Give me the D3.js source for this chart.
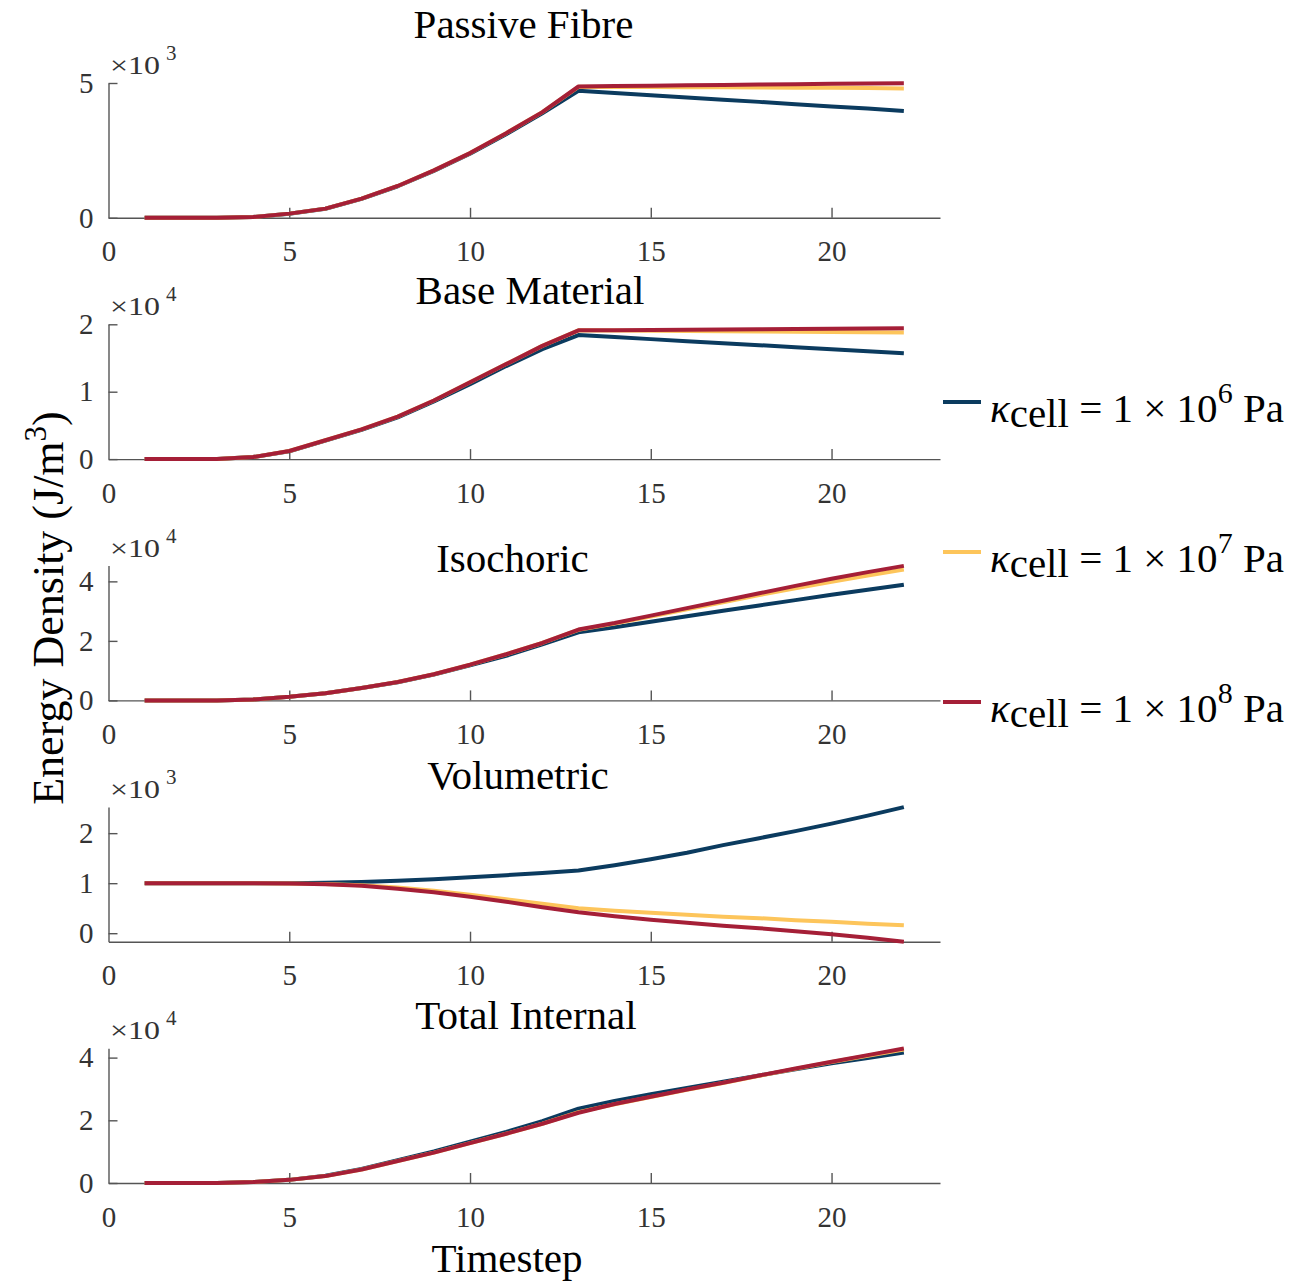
<!DOCTYPE html>
<html>
<head>
<meta charset="utf-8">
<script src="https://cdn.jsdelivr.net/npm/d3@7"></script>
<style>
  body { margin: 0; background: #fff; }
  text { font-family: "Liberation Serif", "Times New Roman", serif; }
</style>
</head>
<body>
<svg id="mainSvg" width="1304" height="1282"></svg>
<script>
// timesteps on the x axis
const timesteps = [1,2,3,4,5,6,7,8,9,10,11,12,13,14,15,16,17,18,19,20,21,22];

// series names (legend) - exponent of kappa_cell
const seriesExp = ["6", "7", "8"];

// Passive Fibre
const passiveK6 = [0,0,0,30,150,335,700,1170,1740,2380,3100,3880,4710,4630,4550,4460,4380,4300,4210,4130,4050,3960];
const passiveK7 = [0,0,0,30,155,340,710,1180,1760,2400,3140,3920,4860,4855,4850,4845,4840,4830,4825,4820,4810,4800];
const passiveK8 = [0,0,0,30,155,340,710,1180,1760,2400,3140,3920,4870,4885,4900,4915,4930,4945,4955,4970,4985,4995];

// Base Material
const baseK6 = [0,0,0,300,1150,2750,4350,6200,8550,11100,13800,16300,18400,18100,17800,17500,17200,16900,16600,16300,16000,15700];
const baseK7 = [0,0,0,300,1200,2800,4400,6300,8700,11400,14100,16800,19100,19070,19030,19000,18970,18930,18900,18870,18830,18800];
const baseK8 = [0,0,0,300,1200,2800,4400,6300,8700,11400,14100,16800,19100,19130,19170,19200,19230,19270,19300,19330,19370,19400];

// Isochoric
const isoK6 = [0,0,0,300,1200,2400,4200,6100,8700,11800,15000,18800,22900,24600,26400,28300,30100,31900,33700,35500,37200,38900];
const isoK7 = [0,0,0,300,1200,2400,4200,6200,8800,12000,15500,19300,23700,25800,28200,30600,33000,35400,37700,39900,42000,44000];
const isoK8 = [0,0,0,300,1200,2400,4200,6200,8800,12000,15500,19300,23800,26000,28500,31000,33500,36000,38500,40900,43100,45200];

// Volumetric
const volK6 = [1000,1000,1000,1000,1000,1010,1025,1050,1080,1120,1160,1205,1255,1360,1480,1610,1760,1900,2040,2190,2350,2520];
const volK7 = [1000,1000,1000,1000,995,985,960,915,850,770,680,590,500,450,410,370,330,300,260,230,190,160];
const volK8 = [1000,1000,1000,1000,995,980,950,890,820,730,630,520,420,340,270,210,150,100,40,-20,-90,-170];

// Total Internal
const totK6 = [0,0,0,300,1000,2300,4500,7300,10100,13200,16300,19700,23700,26200,28300,30300,32300,34300,36300,38200,39900,41600];
const totK7 = [0,0,0,300,1000,2200,4300,7000,9700,12700,15700,18900,22600,25100,27400,29700,31900,34200,36400,38600,40600,42600];
const totK8 = [0,0,0,300,1000,2200,4300,7000,9700,12700,15700,18900,22400,25200,27500,29800,32000,34300,36500,38700,40800,42900];

const panelTitles = ["Passive Fibre", "Base Material", "Isochoric", "Volumetric", "Total Internal"];
const panelSeries = [
    [passiveK6, passiveK7, passiveK8],
    [baseK6, baseK7, baseK8],
    [isoK6, isoK7, isoK8],
    [volK6, volK7, volK8],
    [totK6, totK7, totK8]
];
const panelYLim = [[0, 5000], [0, 20000], [0, 45300], [-170, 2525], [0, 43000]];
const panelYTicks = [[0, 5], [0, 1, 2], [0, 2, 4], [0, 1, 2], [0, 2, 4]];
const panelExp = [3, 4, 4, 3, 4];
const xTicks = [0, 5, 10, 15, 20];
const xLim = [0, 23];

// layout
const colors = ["#0b3b5f", "#fdc55b", "#a51f37"];
const axLeft = 108.5, axRight = 940;
const axTop0 = 83, axStep = 241.3, axHeight = 134.8;
const titlePos = [[523.5, 38], [530, 304], [512.5, 572], [518, 789], [526, 1029]];
const axisColor = "#555";
const tickTextColor = "#333";
const serif = "Liberation Serif";

let canvas = d3.select("#mainSvg");

let x = d3.scaleLinear().domain(xLim).range([axLeft, axRight]);

function drawPanel(i) {
    let top = axTop0 + axStep * i;
    let bottom = top + axHeight;
    let y = d3.scaleLinear().domain(panelYLim[i]).range([bottom, top]);
    let scale = Math.pow(10, panelExp[i]);
    let g = canvas.append("g");

    // x axis
    let xa = g.append("g")
        .attr("transform", `translate(0,${bottom})`)
        .call(d3.axisBottom(x).tickValues(xTicks).tickSizeInner(-10).tickSizeOuter(0).tickPadding(23));
    // y axis
    let ya = g.append("g")
        .attr("transform", `translate(${axLeft},0)`)
        .call(d3.axisLeft(y).tickValues(panelYTicks[i].map(v => v * scale))
            .tickFormat(v => d3.format("d")(Math.round(v / scale)))
            .tickSizeInner(-9).tickSizeOuter(0).tickPadding(15));

    [xa, ya].forEach(a => {
        a.attr("font-family", serif).attr("font-size", 29);
        a.select(".domain").attr("stroke", axisColor).attr("stroke-width", 1.4);
        a.selectAll(".tick line").attr("stroke", axisColor).attr("stroke-width", 1.4);
        a.selectAll(".tick text").attr("fill", tickTextColor)
            .style("font-family", serif).style("font-size", "29px");
    });
    xa.selectAll(".tick").filter(d => d === 0).select("line").remove();

    // exponent label
    let ex = g.append("text")
        .attr("x", 110).attr("y", top - 9)
        .attr("fill", tickTextColor)
        .style("font-size", "25px");
    ex.append("tspan").text("\u00d710")
        .attr("textLength", 50).attr("lengthAdjust", "spacingAndGlyphs");
    ex.append("tspan").text(panelExp[i])
        .attr("x", 166).attr("dy", -14).style("font-size", "21px");

    // lines
    let line = d3.line()
        .x((d, k) => x(timesteps[k]))
        .y(d => y(d));
    panelSeries[i].forEach((s, k) => {
        g.append("path")
            .attr("d", line(s))
            .attr("fill", "none")
            .attr("stroke", colors[k])
            .attr("stroke-width", 4)
            .attr("stroke-linejoin", "round");
    });

    // title
    g.append("text")
        .attr("x", titlePos[i][0]).attr("y", titlePos[i][1])
        .attr("text-anchor", "middle")
        .attr("fill", "#000")
        .style("font-size", "41px")
        .text(panelTitles[i]);
}

panelTitles.forEach((t, i) => drawPanel(i));

// y label
let yl = canvas.append("text")
    .attr("transform", "translate(63,608) rotate(-90)")
    .attr("text-anchor", "middle")
    .attr("fill", "#000")
    .style("font-size", "44px");
yl.append("tspan").text("Energy Density (J/m");
yl.append("tspan").text("3").attr("dy", -17).style("font-size", "31px");
yl.append("tspan").text(")").attr("dy", 17);

// x label
canvas.append("text")
    .attr("x", 507).attr("y", 1272)
    .attr("text-anchor", "middle")
    .attr("fill", "#000")
    .style("font-size", "41px")
    .text("Timestep");

// legend
let legendY = [402, 552, 702];
seriesExp.forEach((e, k) => {
    let ly = legendY[k];
    canvas.append("line")
        .attr("x1", 943).attr("x2", 981)
        .attr("y1", ly).attr("y2", ly)
        .attr("stroke", colors[k]).attr("stroke-width", 4);
    let t = canvas.append("text")
        .attr("x", 990).attr("y", ly + 20)
        .attr("fill", "#000")
        .style("font-size", "41px");
    t.append("tspan").text("\u03ba").style("font-style", "italic");
    t.append("tspan").text("cell").attr("dy", 5).style("font-size", "41px");
    t.append("tspan").text(" = 1 \u00d7 10").attr("dy", -5);
    t.append("tspan").text(e).attr("dy", -19).style("font-size", "30px");
    t.append("tspan").text(" Pa").attr("dy", 19);
});
</script>
</body>
</html>
